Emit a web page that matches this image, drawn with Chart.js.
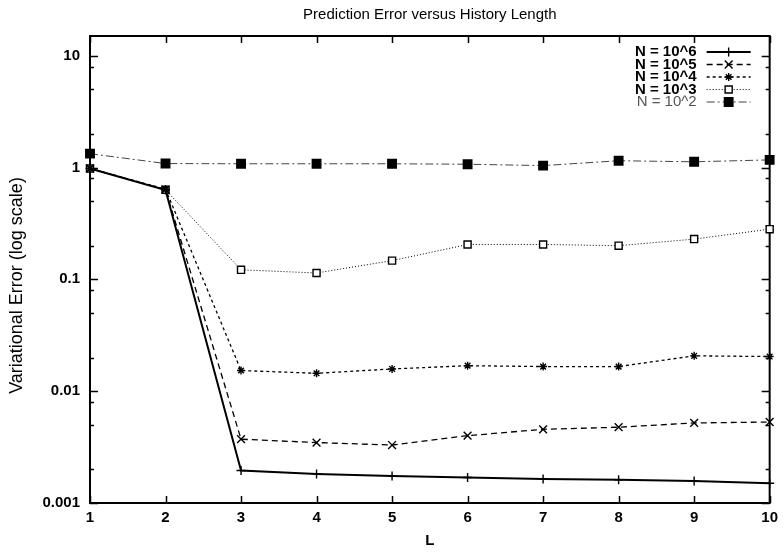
<!DOCTYPE html>
<html>
<head>
<meta charset="utf-8">
<script src="https://cdn.jsdelivr.net/npm/chart.js@4.4.0/dist/chart.umd.min.js"></script>
<style>
  html, body { margin: 0; padding: 0; background: #fff; }
  #wrap { width: 784px; height: 554px; }
</style>
</head>
<body>
<div id="wrap"><canvas id="errChart" width="784" height="554"></canvas></div>
<script>
// data
const historyL = [1, 2, 3, 4, 5, 6, 7, 8, 9, 10];
const seriesNames = ['N = 10^6', 'N = 10^5', 'N = 10^4', 'N = 10^3', 'N = 10^2'];
const errN6 = [0.98, 0.63, 0.00195, 0.00182, 0.00174, 0.00169, 0.00164, 0.00161, 0.00157, 0.00150];
const errN5 = [0.98, 0.635, 0.00372, 0.00347, 0.0033, 0.0040, 0.00456, 0.00476, 0.0052, 0.0053];
const errN4 = [0.98, 0.64, 0.0153, 0.01445, 0.0158, 0.0169, 0.0166, 0.0166, 0.0207, 0.0204];
const errN3 = [0.98, 0.632, 0.1217, 0.114, 0.147, 0.205, 0.205, 0.20, 0.229, 0.281];
const errN2 = [1.33, 1.085, 1.08, 1.08, 1.08, 1.07, 1.04, 1.15, 1.125, 1.17];
const yTicks = [0.001, 0.01, 0.1, 1, 10];
const yTickLabels = ['0.001', '0.01', '0.1', '1', '10'];
const yMinorSteps = [2, 5, 8];
const yTitle = 'Variational Error (log scale)';

const FONT = "'Liberation Sans', Arial, Helvetica, sans-serif";

function pts(arr) {
  return historyL.map((l, i) => ({ x: l, y: arr[i] }));
}

const styles = [
  { borderColor: '#000', borderWidth: 2, borderDash: [], pointStyle: 'cross', pointRadius: 4.5, pointBackgroundColor: '#000' },
  { borderColor: '#000', borderWidth: 1.3, borderDash: [6, 4], pointStyle: 'crossRot', pointRadius: 5.5, pointBackgroundColor: '#000' },
  { borderColor: '#000', borderWidth: 1.3, borderDash: [3, 3], pointStyle: 'star', pointRadius: 4, pointBackgroundColor: '#000' },
  { borderColor: '#000', borderWidth: 1, borderDash: [1, 2], pointStyle: 'rect', pointRadius: 5, pointBackgroundColor: '#fff' },
  { borderColor: '#444', borderWidth: 1, borderDash: [8, 3, 2, 3], pointStyle: 'rect', pointRadius: 6, pointBackgroundColor: '#000' }
];
const allSeries = [errN6, errN5, errN4, errN3, errN2];

const datasets = allSeries.map((s, i) => Object.assign({
  label: seriesNames[i],
  data: pts(s),
  pointBorderColor: '#000',
  pointBorderWidth: 1.4,
  fill: false,
  tension: 0,
  clip: false
}, styles[i]));

// border box + inward ticks like gnuplot
const frameTicks = {
  id: 'frameTicks',
  beforeDatasetsDraw(chart) {
    const { ctx, chartArea: a, scales: { x, y } } = chart;
    ctx.save();
    ctx.strokeStyle = '#000';
    ctx.lineWidth = 1.5;
    ctx.beginPath();
    historyL.forEach(v => {
      const px = Math.round(x.getPixelForValue(v)) + 0.5;
      ctx.moveTo(px, a.bottom); ctx.lineTo(px, a.bottom - 7);
      ctx.moveTo(px, a.top); ctx.lineTo(px, a.top + 7);
    });
    yTicks.forEach(v => {
      const py = Math.round(y.getPixelForValue(v)) + 0.5;
      ctx.moveTo(a.left, py); ctx.lineTo(a.left + 8, py);
      ctx.moveTo(a.right, py); ctx.lineTo(a.right - 8, py);
      yMinorSteps.forEach(m => {
        const mv = v * m;
        if (mv > y.max) return;
        const my = Math.round(y.getPixelForValue(mv)) + 0.5;
        ctx.moveTo(a.left, my); ctx.lineTo(a.left + 4, my);
        ctx.moveTo(a.right, my); ctx.lineTo(a.right - 4, my);
      });
    });
    ctx.stroke();
    ctx.lineWidth = 2;
    ctx.strokeRect(a.left, a.top, a.width, a.height);

    // vertical y label, a bit below the plot centre like the original
    ctx.translate(17, (a.top + a.bottom) / 2 + 16);
    ctx.rotate(-Math.PI / 2);
    ctx.font = '18px ' + FONT;
    ctx.fillStyle = '#000';
    ctx.textAlign = 'center';
    ctx.textBaseline = 'middle';
    ctx.fillText(yTitle, 0, 0);
    ctx.restore();
  }
};

// key in the top right corner: text first, then the line sample
const keyPlugin = {
  id: 'keyPlugin',
  afterDatasetsDraw(chart) {
    const { ctx, chartArea: a } = chart;
    ctx.save();
    chart.data.datasets.forEach((ds, i) => {
      const rowY = a.top + 16 + i * 12.5;
      const last = i === chart.data.datasets.length - 1;
      ctx.font = (last ? '' : 'bold ') + '15px ' + FONT;
      ctx.fillStyle = last ? '#555' : '#000';
      ctx.textAlign = 'right';
      ctx.textBaseline = 'middle';
      ctx.fillText(ds.label, a.right - 73, rowY);

      ctx.strokeStyle = ds.borderColor;
      ctx.lineWidth = ds.borderWidth;
      ctx.setLineDash(ds.borderDash);
      ctx.beginPath();
      ctx.moveTo(a.right - 63, rowY);
      ctx.lineTo(a.right - 19, rowY);
      ctx.stroke();
      ctx.setLineDash([]);

      ctx.fillStyle = ds.pointBackgroundColor;
      ctx.strokeStyle = '#000';
      ctx.lineWidth = ds.pointBorderWidth;
      Chart.helpers.drawPoint(ctx, {
        pointStyle: ds.pointStyle,
        radius: ds.pointRadius,
        rotation: 0,
        borderWidth: ds.pointBorderWidth
      }, a.right - 41, rowY);
    });
    ctx.restore();
  }
};

new Chart(document.getElementById('errChart'), {
  type: 'line',
  data: { datasets: datasets },
  options: {
    responsive: false,
    animation: false,
    devicePixelRatio: 1,
    events: [],
    layout: { padding: { left: 0, right: 8, top: 0, bottom: 0 } },
    plugins: {
      legend: { display: false },
      tooltip: { enabled: false },
      title: {
        display: true,
        text: 'Prediction Error versus History Length',
        fullSize: false,
        color: '#000',
        font: { family: FONT, size: 15, weight: 'normal', lineHeight: 1.2 },
        padding: { top: 6, bottom: 12 }
      }
    },
    scales: {
      x: {
        type: 'linear',
        min: 1,
        max: 10,
        grid: { display: false, drawTicks: false },
        border: { display: false },
        afterBuildTicks: s => { s.ticks = historyL.map(v => ({ value: v })); },
        afterFit: s => { s.height = 51; },
        ticks: {
          color: '#000',
          padding: 6,
          autoSkip: false,
          maxRotation: 0,
          font: { family: FONT, size: 15, weight: 'bold' },
          callback: v => String(v)
        },
        title: {
          display: true,
          text: 'L',
          color: '#000',
          font: { family: FONT, size: 15, weight: 'bold' },
          padding: { top: 0, bottom: 4 }
        }
      },
      y: {
        type: 'logarithmic',
        min: 0.001,
        max: 15,
        grid: { display: false, drawTicks: false },
        border: { display: false },
        afterBuildTicks: s => { s.ticks = yTicks.map(v => ({ value: v })); },
        afterFit: s => { s.width = 90; },
        ticks: {
          color: '#000',
          padding: 10,
          font: { family: FONT, size: 15, weight: 'bold' },
          callback: (v, i) => yTickLabels[i]
        }
      }
    }
  },
  plugins: [frameTicks, keyPlugin]
});
</script>
</body>
</html>
